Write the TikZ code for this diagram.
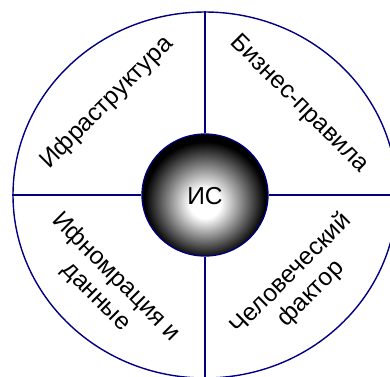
\documentclass[tikz,border=0pt]{standalone}
\usepackage{fontspec}
\setmainfont{Liberation Sans}
\usetikzlibrary{shapes.geometric}
\definecolor{navy}{RGB}{0,0,128}
\pgfdeclareradialshading{sphere}{\pgfpoint{0bp}{-4bp}}{color(0bp)=(white); color(6bp)=(white); color(24bp)=(black); color(50bp)=(black)}
\begin{document}
\begin{tikzpicture}[x=1pt,y=-1pt,
  ring/.style={draw=navy, line width=1.4pt, ellipse, inner sep=0pt},
  divider/.style={draw=navy, line width=1.4pt},
  label/.style={font=\fontsize{24.5}{28}\selectfont, align=center, text=black, inner sep=0pt}]
\useasboundingbox (0,0) rectangle (390,376);
\clip (0,0) rectangle (390,376);
\node[ring, minimum width=384pt, minimum height=366pt] (outer) at (205,195) {};
\node[ellipse, shading=sphere, draw=navy, line width=1.3pt, minimum width=126pt, minimum height=122pt, inner sep=0pt] (core) at (205,195) {};
\node[label] (is) at (205,196) {ИС};
\draw[divider] (outer.west) -- (core.west);
\draw[divider] (core.east) -- (outer.east);
\draw[divider] (outer.north) -- (core.north);
\draw[divider] (core.south) -- (outer.south);
\node[label, rotate=45] (infra) at (107,103) {Ифраструктура};
\node[label, rotate=-45] (biz) at (299,104) {Бизнес-правила};
\node[label, rotate=-45] (info) at (106,287) {Ифномрация и\\данные};
\node[label, rotate=45] (human) at (301,284) {Человеческий\\фактор};
\end{tikzpicture}
\end{document}
